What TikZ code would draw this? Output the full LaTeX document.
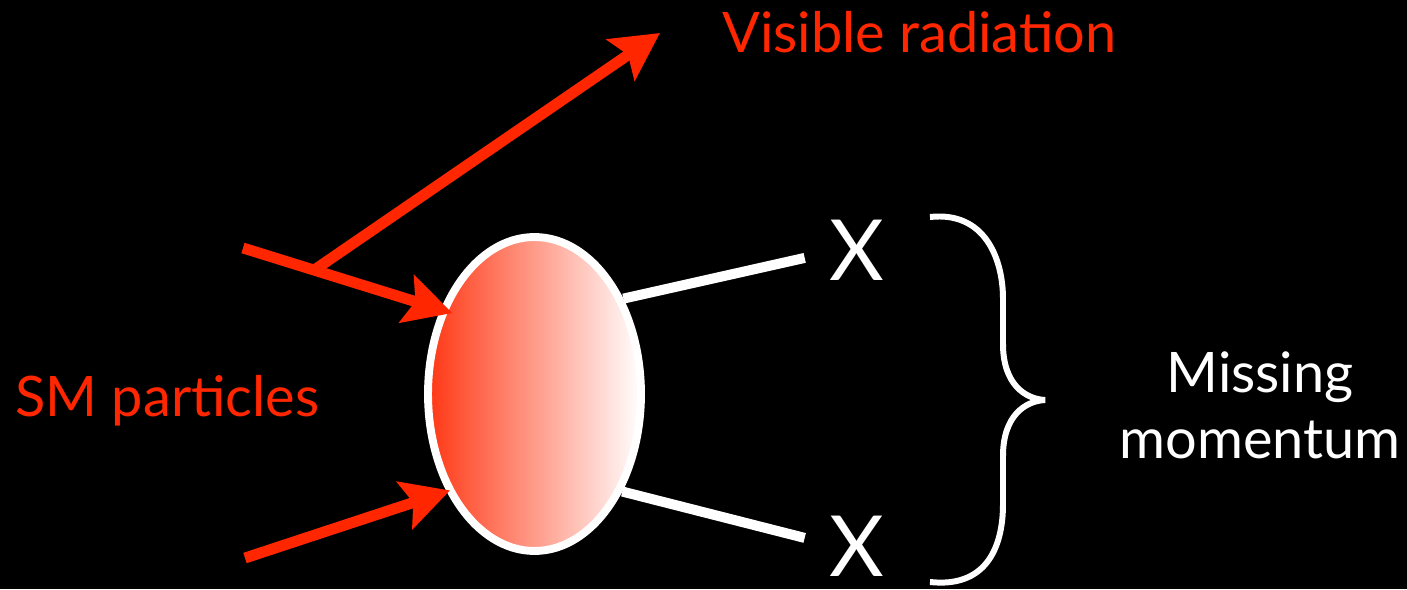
\documentclass[tikz,border=0pt]{standalone}
\usepackage{fontspec}
\setmainfont{Lato}
\usepackage{tikz}
\usetikzlibrary{arrows.meta,shapes.geometric,calc}
\definecolor{kred}{RGB}{255,38,0}

\begin{document}
\begin{tikzpicture}[x=0.02cm,y=0.02cm,font=\fontsize{31.8}{37}\selectfont,
blob/.style={ellipse,draw=white,line width=4.5pt,minimum width=4.26cm,minimum height=6.28cm,inner sep=0pt,left color=kred!92!white,right color=white},
redarr/.style={kred,line width=6.2pt,-{Stealth[length=27pt,width=28pt,inset=5pt]}},
xline/.style={white,line width=5.7pt},
lbl/.style={text=kred,inner sep=0pt},
xlbl/.style={text=white,inner sep=0pt,font=\fontsize{48}{56}\selectfont}]
\useasboundingbox (0,0) rectangle (1407,589);
\fill[black] (0,0) rectangle (1407,589);
\node[blob] (blob) at (534.5,195) {};
\coordinate (in1) at (243,341);
\coordinate (in2) at (245,31);
\coordinate (rad) at (660,556);
\draw[redarr,shorten >=-7pt] (in1) -- (blob.138);
\draw[redarr] ($(in1)!0.36!(blob.138)$) -- (rad);
\draw[redarr,shorten >=-2pt] (in2) -- (blob.228);
\node[xlbl] (x1) at (857,339) {X};
\node[xlbl] (x2) at (857,43) {X};
\draw[xline] (blob.47.5) -- ([xshift=-14pt,yshift=-4.5pt]x1.west);
\draw[xline] (blob.-48) -- ([xshift=-14pt,yshift=4.6pt]x2.west);
\node[lbl,anchor=base west] (sm) at (15,173) {SM particles};
\node[lbl,anchor=base west] (vis) at (722,536) {Visible radiation};
\node[text=white,inner sep=0pt,align=center,anchor=base] (miss) at (1260,131) {Missing\\momentum};
\draw[white,line width=3.4pt] (930,372) .. controls (985,378) and (1003,330) .. (1003,290) -- (1003,245)
  .. controls (1003,205) and (1025,190) .. (1045,189) .. controls (1025,188) and (1003,173) .. (1003,133)
  -- (1003,85) .. controls (1003,40) and (985,1) .. (930,7);
\end{tikzpicture}
\end{document}
